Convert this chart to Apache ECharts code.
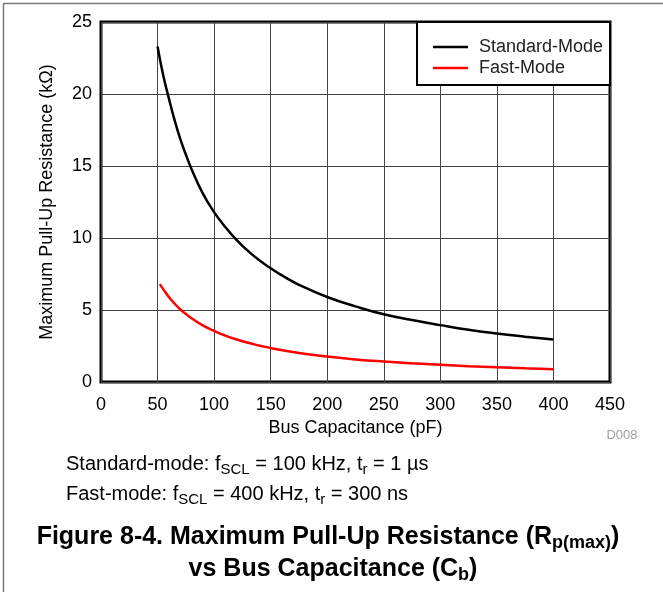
<!DOCTYPE html>
<html>
<head>
<meta charset="utf-8">
<script src="https://cdn.jsdelivr.net/npm/echarts@6/dist/echarts.min.js"></script>
<style>
  html, body { margin: 0; padding: 0; background: #fff; }
  #chart { width: 663px; height: 592px; }
</style>
</head>
<body>
<div id="chart"></div>
<script>
// Standard-Mode curve (pF -> kΩ)
const stdCap = [50, 55, 60, 65, 70, 75, 80, 90, 100, 110, 120, 130, 140, 150, 160, 175, 200, 225, 250, 275, 300, 325, 350, 375, 400]
const stdRes = [23.3, 21.3, 19.7, 18.2, 16.9, 15.8, 14.8, 13.1, 11.8, 10.75, 9.85, 9.1, 8.45, 7.9, 7.4, 6.75, 5.9, 5.25, 4.7, 4.3, 3.95, 3.63, 3.37, 3.15, 2.95]
// Fast-Mode curve
const fastCap = [52, 55, 60, 65, 70, 75, 80, 90, 100, 110, 120, 130, 140, 150, 175, 200, 225, 250, 275, 300, 325, 350, 375, 400]
const fastRes = [6.8, 6.45, 5.9, 5.45, 5.05, 4.72, 4.43, 3.93, 3.55, 3.22, 2.95, 2.72, 2.53, 2.36, 2.02, 1.77, 1.57, 1.42, 1.3, 1.2, 1.1, 1.02, 0.95, 0.89]

const seriesNames = ['Standard-Mode', 'Fast-Mode']
const seriesColors = ['#000000', '#ff0000']

const FONT = '"Liberation Sans", Arial, Helvetica, sans-serif'

const chart = echarts.init(document.getElementById('chart'), null, { renderer: 'canvas' })

// 把两个数组拼成 [x, y]
const toPairs = (xs, ys) => xs.map((x, i) => [x, ys[i]])

const subStyle = (size, drop) => ({
  fontSize: size,
  lineHeight: size,
  fontFamily: FONT,
  padding: [drop, 0, 0, 0]
})

const options = {
  animation: false,
  backgroundColor: '#fff',
  textStyle: { fontFamily: FONT, color: '#000' },
  grid: {
    left: 101,
    right: 53,
    top: 22,
    bottom: 210,
    show: true,
    borderColor: '#000',
    borderWidth: 3,
    containLabel: false
  },
  legend: {
    data: seriesNames,
    orient: 'vertical',
    left: 428,
    top: 33,
    icon: 'rect',
    itemWidth: 35,
    itemHeight: 2.5,
    itemGap: 3,
    z: 10,
    textStyle: { fontSize: 18, fontFamily: FONT, color: '#222', padding: [0, 0, 0, 6] }
  },
  xAxis: {
    type: 'value',
    min: 0,
    max: 450,
    interval: 50,
    name: 'Bus Capacitance (pF)',
    nameLocation: 'middle',
    nameGap: 34,
    nameTextStyle: { fontSize: 18, fontFamily: FONT, color: '#000' },
    axisLine: { show: false },
    axisTick: { show: false },
    axisLabel: { fontSize: 18, fontFamily: FONT, color: '#000', margin: 14 },
    splitLine: { show: true, lineStyle: { color: '#444', width: 1 } }
  },
  yAxis: {
    type: 'value',
    min: 0,
    max: 25,
    interval: 5,
    name: 'Maximum Pull-Up Resistance (kΩ)',
    nameLocation: 'middle',
    nameGap: 45,
    nameTextStyle: { fontSize: 18, fontFamily: FONT, color: '#000' },
    axisLine: { show: false },
    axisTick: { show: false },
    axisLabel: { fontSize: 18, fontFamily: FONT, color: '#000', margin: 9 },
    splitLine: { show: true, lineStyle: { color: '#444', width: 1 } }
  },
  series: [
    {
      name: seriesNames[0],
      type: 'line',
      data: toPairs(stdCap, stdRes),
      smooth: 0.5,
      showSymbol: false,
      lineStyle: { color: seriesColors[0], width: 2.5 },
      itemStyle: { color: seriesColors[0] }
    },
    {
      name: seriesNames[1],
      type: 'line',
      data: toPairs(fastCap, fastRes),
      smooth: 0.5,
      showSymbol: false,
      lineStyle: { color: seriesColors[1], width: 2.5 },
      itemStyle: { color: seriesColors[1] }
    }
  ],
  graphic: [
    // 外框
    { type: 'line', z: 1, shape: { x1: 3.5, y1: 3.5, x2: 663, y2: 3.5 }, style: { stroke: '#777', lineWidth: 1.5 } },
    { type: 'line', z: 1, shape: { x1: 3.5, y1: 3.5, x2: 3.5, y2: 592 }, style: { stroke: '#777', lineWidth: 1.5 } },
    // 图例框
    { type: 'rect', z: 5, shape: { x: 417, y: 22, width: 193, height: 63 }, style: { fill: '#fff', stroke: '#000', lineWidth: 2 } },
    {
      type: 'text', z: 5, x: 622, y: 435,
      style: { text: 'D008', font: '13px ' + FONT, fill: '#a0a0a0', textAlign: 'center', textVerticalAlign: 'middle' }
    },
    {
      type: 'text', z: 5, x: 66, y: 464,
      style: {
        text: '{a|Standard-mode: f}{s|SCL}{a| = 100 kHz, t}{s|r}{a| = 1 µs}',
        textAlign: 'left', textVerticalAlign: 'middle', fill: '#000',
        rich: { a: { fontSize: 20, lineHeight: 26, fontFamily: FONT }, s: subStyle(15, 11) }
      }
    },
    {
      type: 'text', z: 5, x: 66, y: 494,
      style: {
        text: '{a|Fast-mode: f}{s|SCL}{a| = 400 kHz, t}{s|r}{a| = 300 ns}',
        textAlign: 'left', textVerticalAlign: 'middle', fill: '#000',
        rich: { a: { fontSize: 20, lineHeight: 26, fontFamily: FONT }, s: subStyle(15, 11) }
      }
    },
    {
      type: 'text', z: 5, x: 328, y: 537,
      style: {
        text: '{a|Figure 8-4. Maximum Pull-Up Resistance (R}{s|p(max)}{a|)}',
        textAlign: 'center', textVerticalAlign: 'middle', fill: '#000',
        rich: {
          a: { fontSize: 25, fontWeight: 'bold', lineHeight: 30, fontFamily: FONT },
          s: { fontSize: 18, fontWeight: 'bold', lineHeight: 18, fontFamily: FONT, padding: [12, 0, 0, 0] }
        }
      }
    },
    {
      type: 'text', z: 5, x: 333, y: 569,
      style: {
        text: '{a|vs Bus Capacitance (C}{s|b}{a|)}',
        textAlign: 'center', textVerticalAlign: 'middle', fill: '#000',
        rich: {
          a: { fontSize: 25, fontWeight: 'bold', lineHeight: 30, fontFamily: FONT },
          s: { fontSize: 18, fontWeight: 'bold', lineHeight: 18, fontFamily: FONT, padding: [12, 0, 0, 0] }
        }
      }
    }
  ]
}

chart.setOption(options)
</script>
</body>
</html>
